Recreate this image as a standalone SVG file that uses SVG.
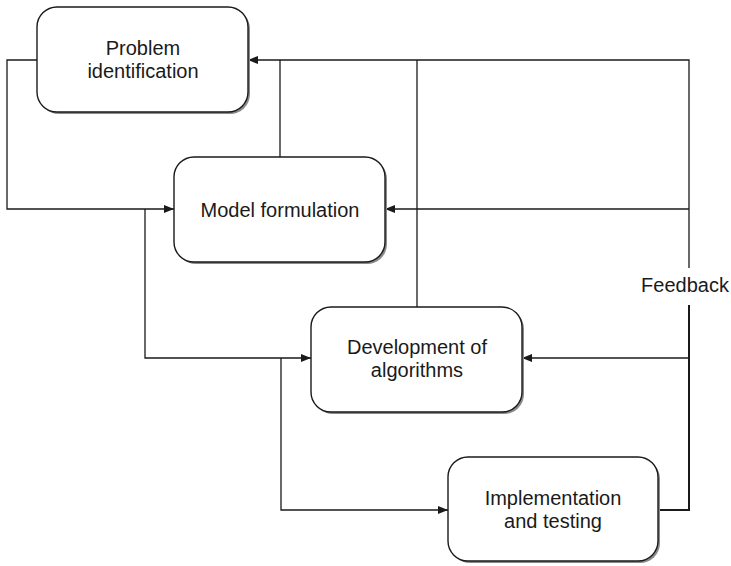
<svg xmlns="http://www.w3.org/2000/svg" width="731" height="566" viewBox="0 0 731 566">
<defs>
<marker id="arr" viewBox="0 0 10 8" refX="10" refY="4" markerWidth="10" markerHeight="8" markerUnits="userSpaceOnUse" orient="auto">
<path d="M0,0 L10,4 L0,8 Z" fill="#1a1a1a"/>
</marker>
</defs>
<style>
.box{fill:#fff;stroke:#1a1a1a;stroke-width:1.4}
.sh{fill:#8a8a8a}
.t{font-family:"Liberation Sans",Arial,sans-serif;font-size:20px;fill:#1a1a1a;text-anchor:middle}
.c{fill:none;stroke:#1a1a1a;stroke-width:1.3}
</style>
<rect width="731" height="566" fill="#fff"/>
<g id="connectors">
<polyline class="c" points="37,60 7,60 7,209 174,209" marker-end="url(#arr)"/>
<polyline class="c" points="145,209 145,358 311,358" marker-end="url(#arr)"/>
<polyline class="c" points="281,358 281,510 448,510" marker-end="url(#arr)"/>
<polyline class="c" points="658,510 689,510 689,305" style="stroke-width:2"/>
<polyline class="c" points="689,268 689,60 248,60" marker-end="url(#arr)"/>
<line class="c" x1="689" y1="209" x2="385" y2="209" marker-end="url(#arr)"/>
<line class="c" x1="689" y1="358" x2="522" y2="358" marker-end="url(#arr)"/>
<line class="c" x1="280" y1="60" x2="280" y2="157"/>
<line class="c" x1="417" y1="60" x2="417" y2="307"/>
</g>
<g id="problem">
<rect class="sh" x="39" y="9" width="211" height="105" rx="20"/>
<rect class="box" x="37" y="7" width="211" height="105" rx="20"/>
<text class="t" x="143" y="55">Problem</text>
<text class="t" x="143" y="78">identification</text>
</g>
<g id="model">
<rect class="sh" x="176" y="159" width="211" height="105" rx="20"/>
<rect class="box" x="174" y="157" width="211" height="105" rx="20"/>
<text class="t" x="280" y="217">Model formulation</text>
</g>
<g id="development">
<rect class="sh" x="313" y="309" width="211" height="105" rx="20"/>
<rect class="box" x="311" y="307" width="211" height="105" rx="20"/>
<text class="t" x="417" y="354">Development of</text>
<text class="t" x="417" y="377">algorithms</text>
</g>
<g id="implementation">
<rect class="sh" x="450" y="459" width="210" height="104" rx="20"/>
<rect class="box" x="448" y="457" width="210" height="104" rx="20"/>
<text class="t" x="553" y="505">Implementation</text>
<text class="t" x="553" y="528">and testing</text>
</g>
<g id="feedback">
<text class="t" x="685" y="292">Feedback</text>
</g>
</svg>
